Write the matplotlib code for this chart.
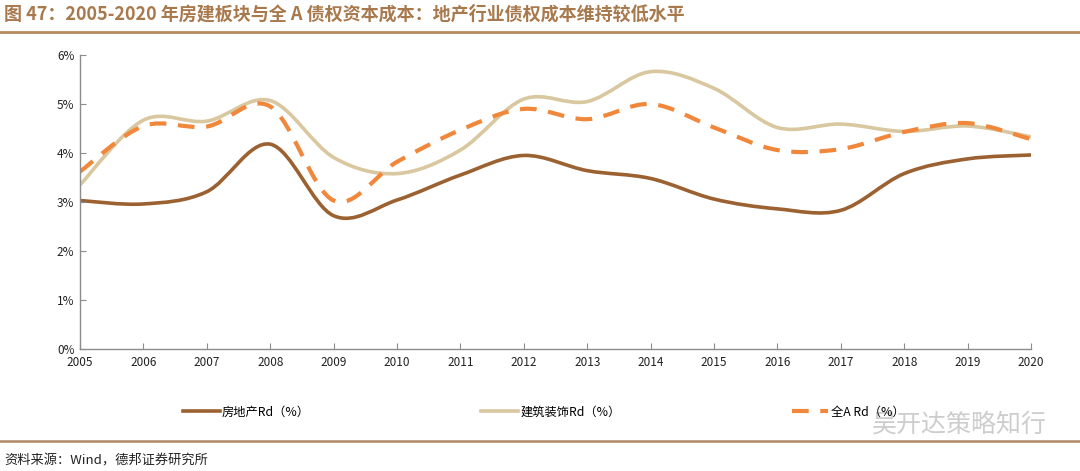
import numpy as np
import matplotlib
matplotlib.use("Agg")
import matplotlib.pyplot as plt
from matplotlib.path import Path
from matplotlib.patches import PathPatch
from matplotlib.lines import Line2D
from matplotlib.ticker import FuncFormatter

plt.rcParams["font.family"] = ["Noto Sans CJK SC", "DejaVu Sans"]

YEARS = list(range(2005, 2021))
REAL_ESTATE = [3.03, 2.96, 3.21, 4.18, 2.72, 3.04, 3.55, 3.95, 3.64, 3.48,
               3.06, 2.86, 2.83, 3.58, 3.88, 3.96]
CONSTRUCTION = [3.35, 4.67, 4.65, 5.07, 3.91, 3.58, 4.06, 5.10, 5.05, 5.66,
                5.32, 4.52, 4.59, 4.44, 4.55, 4.33]
ALL_A = [3.62, 4.55, 4.54, 4.95, 3.03, 3.82, 4.47, 4.90, 4.69, 5.00,
         4.52, 4.06, 4.08, 4.43, 4.61, 4.28]
LABELS = ["房地产Rd（%）", "建筑装饰Rd（%）", "全A Rd（%）"]
COLORS = ["#9c6130", "#d9c79f", "#f0873a"]
STYLES = ["-", "-", (0, (4.0, 2.8))]

TITLE = "图 47：2005-2020 年房建板块与全 A 债权资本成本：地产行业债权成本维持较低水平"
SOURCE = "资料来源：Wind，德邦证券研究所"


def smooth_path(xs, ys):
    """Excel-like smoothed line: cubic Bezier segments through every point."""
    p = np.column_stack([xs, ys]).astype(float)
    n = len(p)
    verts = [p[0]]
    codes = [Path.MOVETO]
    for i in range(n - 1):
        p0 = p[max(i - 1, 0)]
        p3 = p[min(i + 2, n - 1)]
        c1 = p[i] + (p[i + 1] - p0) / 6.0
        c2 = p[i + 1] - (p3 - p[i]) / 6.0
        verts += [c1, c2, p[i + 1]]
        codes += [Path.CURVE4] * 3
    return Path(verts, codes)


fig = plt.figure(figsize=(10.8, 4.71), dpi=100)
ax = fig.add_axes([80 / 1080, 1 - 349 / 471, (1031 - 80) / 1080, (349 - 55) / 471])

for vals, col, ls in zip([REAL_ESTATE, CONSTRUCTION, ALL_A], COLORS, STYLES):
    lw = 3.0 if ls != "-" else 2.6
    patch = PathPatch(smooth_path(YEARS, np.array(vals) / 100), fill=False,
                      edgecolor=col, lw=lw, linestyle=ls, capstyle="butt")
    ax.add_patch(patch)

ax.set_xlim(2005, 2020)
ax.set_ylim(0, 0.06)
ax.set_xticks(YEARS)
ax.set_yticks(np.arange(0, 0.061, 0.01))
ax.yaxis.set_major_formatter(FuncFormatter(lambda v, _: f"{v * 100:.0f}%"))
for sp in ["top", "right"]:
    ax.spines[sp].set_visible(False)
for sp in ["left", "bottom"]:
    ax.spines[sp].set_color("#8c8c8c")
    ax.spines[sp].set_linewidth(1.0)
ax.tick_params(direction="in", length=4, color="#8c8c8c", labelsize=8.5,
               labelcolor="#222222")
ax.tick_params(axis="x", pad=5)
ax.tick_params(axis="y", pad=4)

handles = [Line2D([], [], color=c, lw=3.0 if ls != "-" else 2.6, linestyle=ls)
           for c, ls in zip(COLORS, STYLES)]
fig.legend(handles, LABELS, loc="center left", bbox_to_anchor=(178 / 1080, 1 - 412 / 471),
           ncol=3, frameon=False, fontsize=8.8, handlelength=3.0, handletextpad=0.2,
           columnspacing=14.0, borderaxespad=0)

# title, rules, source
fig.text(4 / 1080, 1 - 14 / 471, TITLE, fontsize=13, fontweight="bold",
         color="#a8794d", va="center", ha="left")
fig.add_artist(Line2D([0, 1], [1 - 32 / 471] * 2, color="#b88a60", lw=2,
                      transform=fig.transFigure))
fig.add_artist(Line2D([0, 1], [1 - 441 / 471] * 2, color="#b08a68", lw=1.8,
                      transform=fig.transFigure))
fig.text(4 / 1080, 1 - 461 / 471, SOURCE, fontsize=9.5, color="#222222",
         va="center", ha="left")
fig.text(1047 / 1080, 1 - 425 / 471, "吴开达策略知行", fontsize=18, color="#c8c8c8",
         va="center", ha="right", alpha=0.9)

fig.savefig("out.png", dpi=100, facecolor="white")
